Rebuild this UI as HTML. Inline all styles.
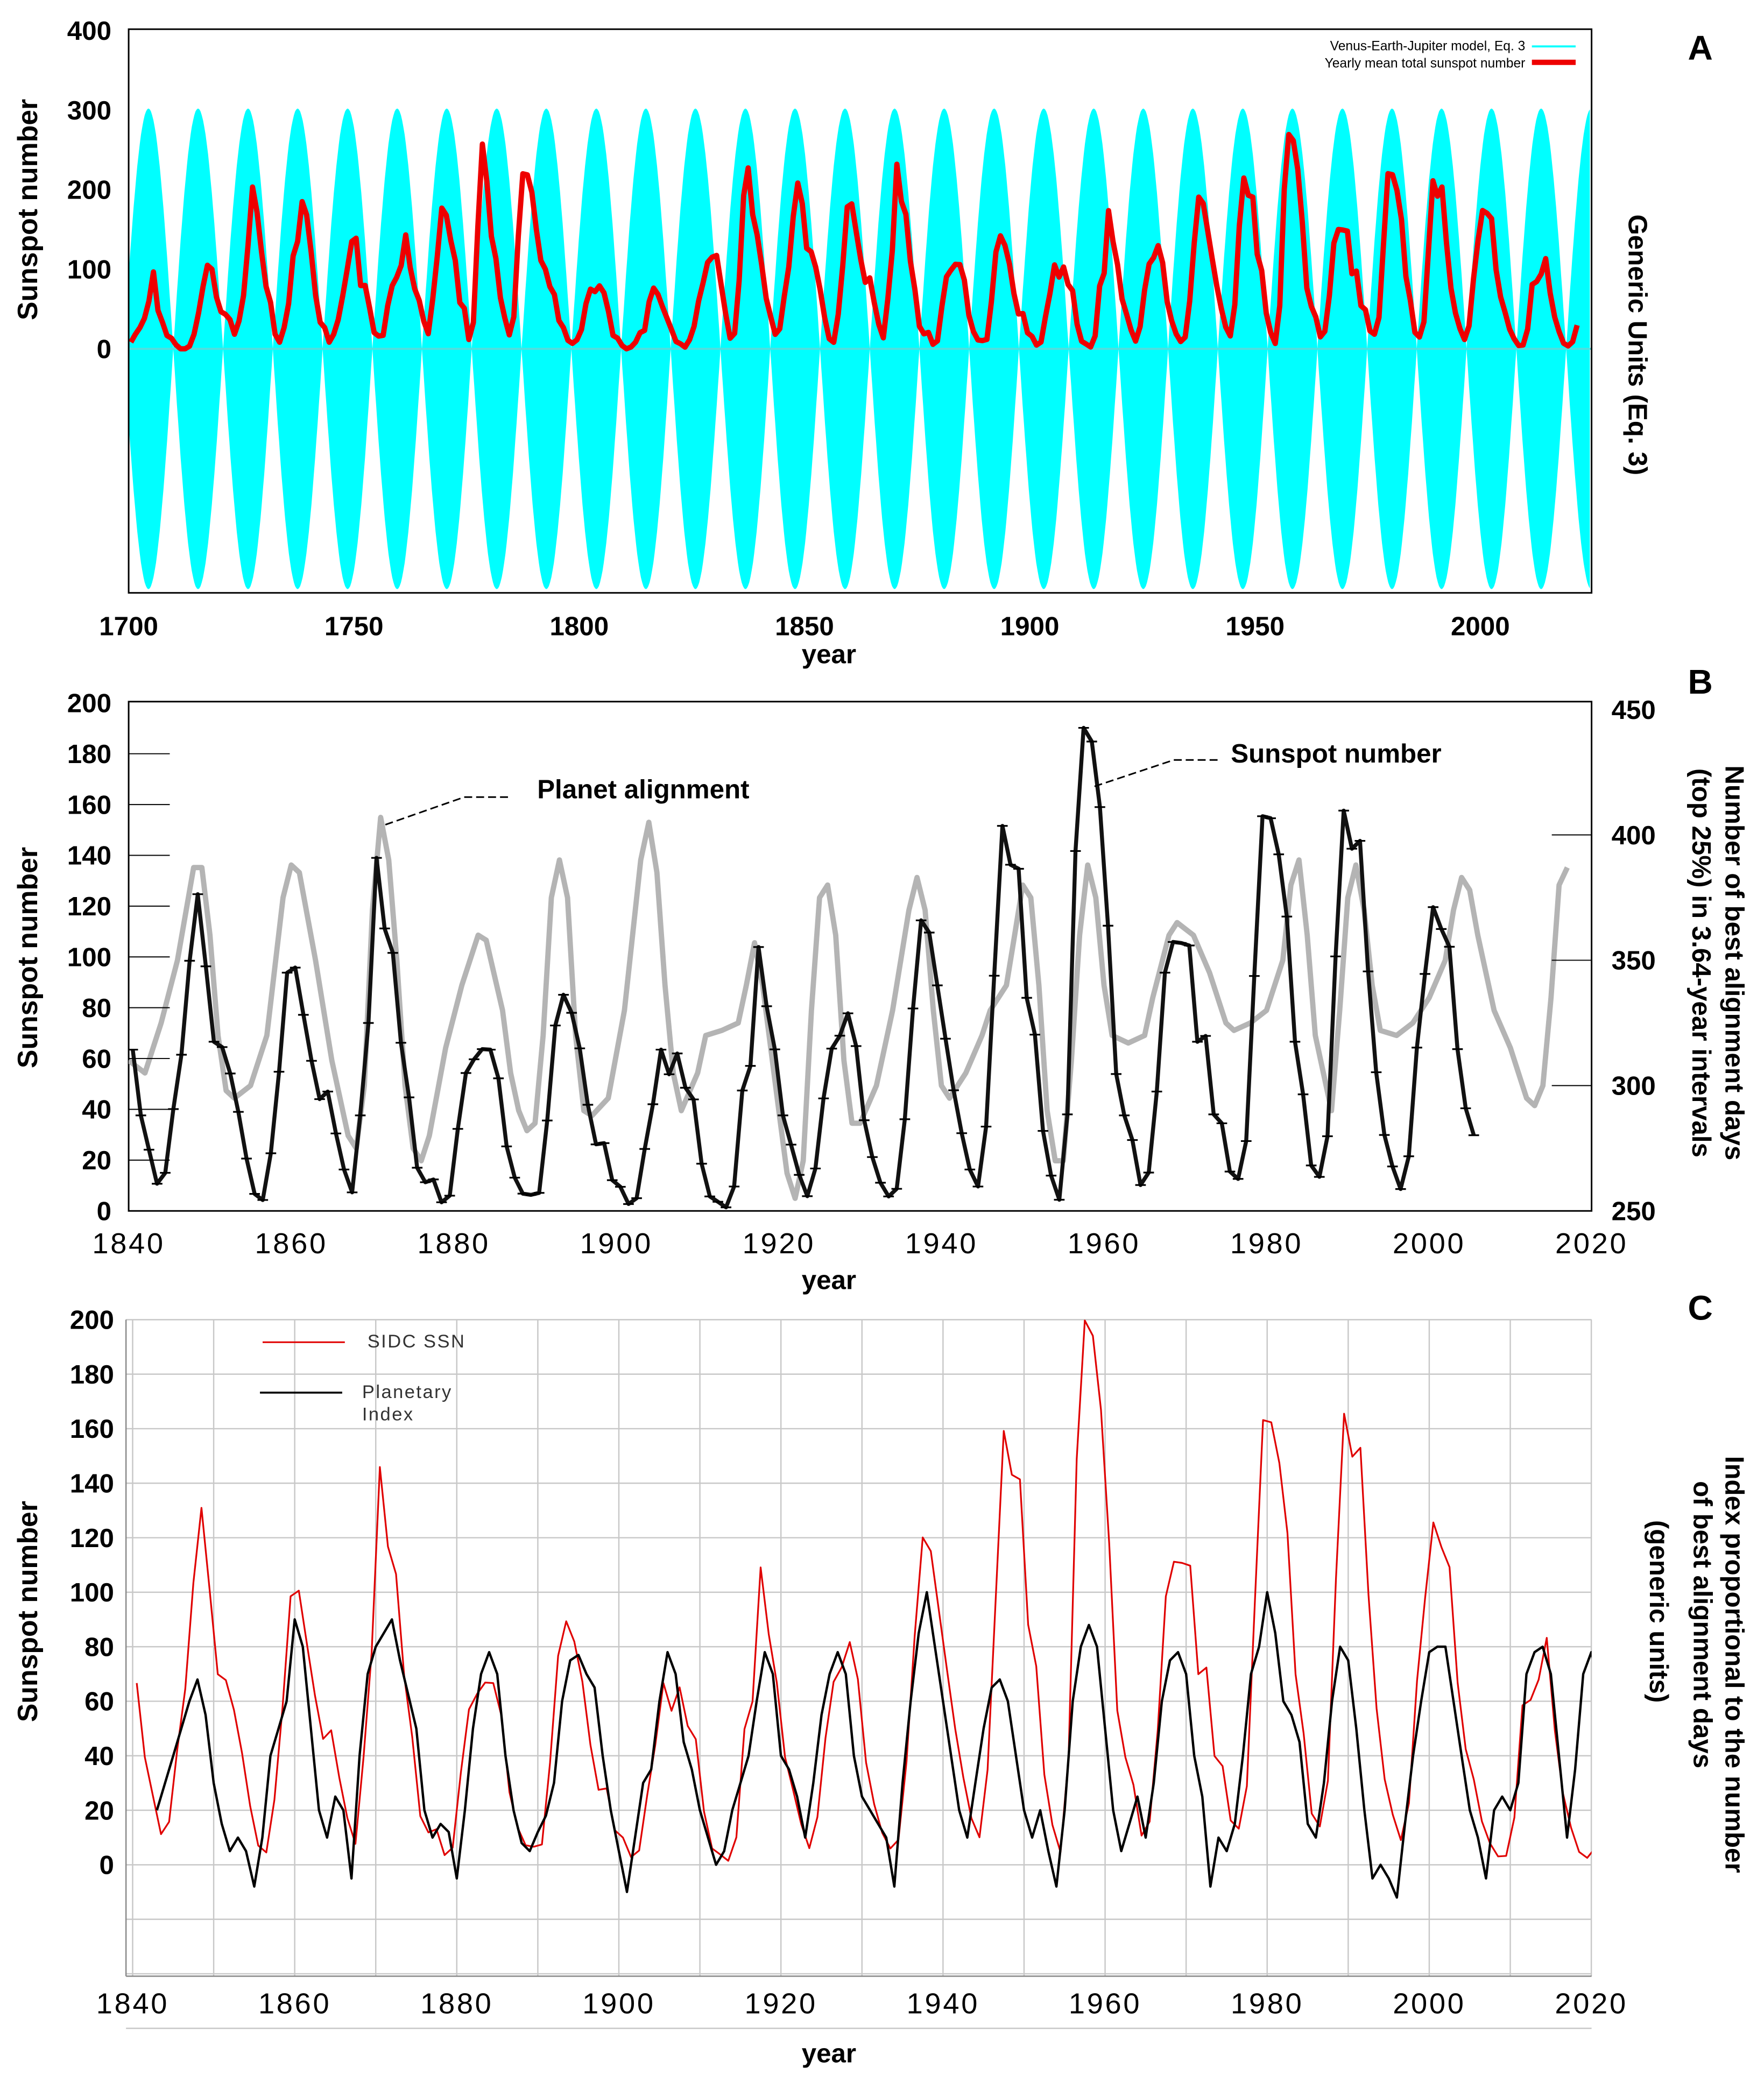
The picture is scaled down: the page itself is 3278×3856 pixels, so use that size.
<!DOCTYPE html>
<html><head><meta charset="utf-8"><title>Sunspot charts</title>
<style>
html,body{margin:0;padding:0;background:#fff;}
svg{display:block;font-family:"Liberation Sans",sans-serif;}
.b{font-weight:bold;}
</style></head>
<body>
<svg id="root" width="3278" height="3856" viewBox="0 0 1330 1564.5" xmlns="http://www.w3.org/2000/svg">
<defs>
<clipPath id="clipA"><rect x="97" y="22" width="1103" height="425"/></clipPath>
<clipPath id="clipB"><rect x="97" y="529" width="1103" height="384"/></clipPath>
<clipPath id="clipC"><rect x="95" y="995" width="1105" height="495"/></clipPath>
</defs>
<!-- Panel A -->
<g>
<g id="aMarks" clip-path="url(#clipA)"></g>
<rect x="97" y="22" width="1103" height="425" fill="none" stroke="#000" stroke-width="1.2"/>
<g id="aAxes"></g>
<text class="b" font-size="21" transform="translate(28,158) rotate(-90)" text-anchor="middle">Sunspot number</text>
<text class="b" font-size="20" transform="translate(1228,260) rotate(90)" text-anchor="middle">Generic Units (Eq. 3)</text>
<text class="b" font-size="20" x="625" y="500" text-anchor="middle">year</text>
<text class="b" font-size="26" x="1282" y="45" text-anchor="middle">A</text>
<g>
<text font-size="10" x="1150" y="38" text-anchor="end">Venus-Earth-Jupiter model, Eq. 3</text>
<line x1="1155" y1="35" x2="1188" y2="35" stroke="#00ffff" stroke-width="1.5"/>
<text font-size="10" x="1150" y="51" text-anchor="end">Yearly mean total sunspot number</text>
<line x1="1155" y1="47" x2="1188" y2="47" stroke="#ee0000" stroke-width="4"/>
</g>
</g>
<!-- Panel B -->
<g>
<rect x="97" y="529" width="1103" height="384" fill="none" stroke="#000" stroke-width="1.2"/>
<g id="bMarks" clip-path="url(#clipB)"></g>
<g id="bAxes"></g>
<text class="b" font-size="21" transform="translate(28,722) rotate(-90)" text-anchor="middle">Sunspot number</text>
<text class="b" font-size="20" transform="translate(1301,726) rotate(90)" text-anchor="middle">Number of best alignment days</text>
<text class="b" font-size="20" transform="translate(1276,726) rotate(90)" text-anchor="middle">(top 25%) in 3.64-year intervals</text>
<text class="b" font-size="20" x="625" y="972" text-anchor="middle">year</text>
<text class="b" font-size="26" x="1282" y="523" text-anchor="middle">B</text>
<text class="b" font-size="20" x="405" y="602">Planet alignment</text>
<polyline points="383,601 350,601 290,622" fill="none" stroke="#000" stroke-width="1.2" stroke-dasharray="6,3"/>
<text class="b" font-size="20" x="928" y="575">Sunspot number</text>
<polyline points="918,573 885,573 825,593" fill="none" stroke="#000" stroke-width="1.2" stroke-dasharray="6,3"/>
</g>
<!-- Panel C -->
<g>
<g id="cGrid"></g>
<g id="cMarks" clip-path="url(#clipC)"></g>
<g id="cAxes"></g>
<text class="b" font-size="21" transform="translate(28,1215) rotate(-90)" text-anchor="middle">Sunspot number</text>
<text class="b" font-size="20" transform="translate(1301,1255) rotate(90)" text-anchor="middle">Index proportional to the number</text>
<text class="b" font-size="20" transform="translate(1277,1225) rotate(90)" text-anchor="middle">of best alignment days</text>
<text class="b" font-size="20" transform="translate(1244,1215) rotate(90)" text-anchor="middle">(generic units)</text>
<text class="b" font-size="20" x="625" y="1555" text-anchor="middle">year</text>
<text class="b" font-size="26" x="1282" y="995" text-anchor="middle">C</text>
<g>
<line x1="198" y1="1012" x2="260" y2="1012" stroke="#e00000" stroke-width="1.2"/>
<text font-size="14" x="277" y="1016" letter-spacing="1" fill="#333">SIDC SSN</text>
<line x1="196" y1="1050" x2="258" y2="1050" stroke="#000" stroke-width="1.5"/>
<text font-size="14" x="273" y="1054" letter-spacing="1" fill="#333">Planetary</text>
<text font-size="14" x="273" y="1071" letter-spacing="1" fill="#333">Index</text>
</g>
</g>
</svg>
<script>
// ---- Panel A data ----
const aYears0 = 1700;
const aSSN = [8.3,18.3,26.7,38.3,60,96.7,48.3,33.3,16.7,13.3,5,0,0,3.3,18.3,45,78.3,105,100,65,46.7,43.3,36.7,18.3,35,66.7,130,203.3,171.7,121.7,78.3,58.3,18.3,8.3,26.7,56.7,116.7,135,185,168.3,121.7,66.7,33.3,26.7,8.3,18.3,36.7,66.7,100,134.8,139,79.5,79.7,51.2,20.3,16,17,54,79.3,90,104.8,143.2,102,75.2,60.7,34.8,19,63,116.3,176.8,168,136,110.8,58,51,11.7,33,154.2,257.3,209.8,141.3,113.5,64.2,38.8,17.5,40.2,142,220,218.7,196.8,149.8,111,100,78.2,68.3,35.5,26.7,10.7,6.8,11.3,24.2,56.7,75,71.8,79.2,70.3,46.8,16.8,13.5,4.2,0,2.3,8.3,20.3,23.2,59,76.3,68.3,52.9,38.5,24.2,9.2,6.3,2.2,11.4,28.2,59.9,83,108.5,115.2,117.4,80.8,44.3,13.4,19.5,85.8,192.7,227.3,168.7,143,105.5,63.3,40.3,18.1,25.1,65.8,102.7,166.3,208.3,182.5,126.3,122,102.7,74.1,39,12.7,8.2,43.4,104.4,178.3,182.2,146.6,112.1,83.5,89.2,57.8,30.7,13.9,62.8,123.6,232,185.3,169.2,110.1,74.5,28.3,18.9,20.7,5.7,10,53.7,90.5,99,106.1,105.8,86.3,42.4,21.8,11.2,10.4,11.8,59.5,121.7,142,130,106.6,69.4,43.8,44.4,20.2,15.7,4.6,8.5,40.8,70.1,105.5,90.1,102.8,80.9,73.2,30.9,9.5,6,2.4,16.1,79,95,173.6,134.6,105.7,62.7,43.5,23.7,9.7,27.9,74,106.5,114.7,129.7,108.2,59.4,35.1,18.6,9.2,14.6,60.2,132.8,190.6,182.6,148,113,79.2,50.8,27.1,16.1,55.3,154.3,214.7,193,190.7,118.9,98.3,45,20.1,6.6,54.2,200.7,269.3,261.7,225.1,159,76.4,53.4,39.9,15,22,66.8,132.9,150,149.4,148,94.4,97.6,54.1,49.2,22.5,18.4,39.3,131,220.1,218.9,198.9,162.4,91,60.5,20.6,14.8,33.9,123,211.1,191.8,203.3,133,76.1,44.9,25.1,11.6,28.9,88.3,136.3,173.9,170.4,163.6,99.3,65.3,45.8,24.7,12.6,4.2,4.8,24.9,80.8,84.5,94,113.3,69.8,39.8,21.7,7,3.6,8.8,29.6];
const aModelPeaks = [1693.4,1704.4,1715.4,1726.5,1737.5,1748.6,1759.6,1770.6,1781.7,1792.7,1803.8,1814.8,1825.8,1836.9,1847.9,1859.0,1870.0,1881.0,1892.1,1903.1,1914.2,1925.2,1936.2,1947.3,1958.3,1969.4,1980.4,1991.4,2002.5,2013.5,2024.6];
const aModelAmp = [302];
const aYTicks = [0,100,200,300,400];
const aXTicks = [1700,1750,1800,1850,1900,1950,2000];

// ---- Panel B data ----
const bYears0 = 1840;
const bSSN = [63.5,37.6,24.1,10.7,15.0,40.1,61.5,98.5,124.7,96.3,66.6,64.5,54.1,39.0,20.6,6.7,4.3,22.7,54.8,93.8,95.8,77.2,59.1,44.0,47.0,30.5,16.3,7.3,37.6,74.0,139.0,111.2,101.6,66.2,44.7,17.0,11.3,12.4,3.4,6.0,32.3,54.3,59.7,63.7,63.5,52.2,25.4,13.1,6.8,6.3,7.1,35.6,73.0,85.1,78.0,64.0,41.8,26.2,26.7,12.1,9.5,2.7,5.0,24.4,42.0,63.5,53.8,62.0,48.5,43.9,18.6,5.7,3.6,1.4,9.6,47.4,57.1,103.9,80.6,63.6,37.6,26.1,14.2,5.8,16.7,44.3,63.9,69.0,77.8,64.9,35.7,21.2,11.1,5.7,8.7,36.1,79.7,114.4,109.6,88.8,67.8,47.5,30.6,16.3,9.6,33.2,92.6,151.6,136.3,134.7,83.9,69.4,31.5,13.9,4.4,38.0,141.7,190.2,184.8,159.0,112.3,53.9,37.6,27.9,10.2,15.1,47.0,93.8,105.9,105.5,104.5,66.6,68.9,38.0,34.5,15.5,12.6,27.5,92.5,155.4,154.6,140.4,115.9,66.6,45.9,17.9,13.4,29.4,100.2,157.6,142.6,145.7,94.3,54.6,29.9,17.5,8.6,21.5,64.3,93.3,119.6,111.0,104.0,63.7,40.4,29.8];
const bAlignYears = [1840,1842,1844,1846,1848,1849,1850,1851,1852,1853,1855,1857,1859,1860,1861,1863,1865,1867,1868,1869,1870,1871,1872,1873,1874,1875,1876,1877,1879,1881,1883,1884,1886,1887,1888,1889,1890,1891,1892,1893,1894,1895,1896,1897,1899,1901,1903,1904,1905,1906,1907,1908,1910,1911,1913,1915,1916,1917,1918,1920,1921,1922,1923,1924,1925,1926,1927,1928,1929,1930,1932,1934,1936,1937,1938,1939,1940,1941,1943,1945,1946,1948,1949,1950,1951,1952,1953,1954,1955,1956,1957,1958,1959,1960,1961,1963,1965,1966,1968,1969,1971,1973,1975,1976,1978,1980,1982,1983,1984,1985,1986,1987,1988,1989,1990,1991,1992,1993,1994,1996,1998,2000,2002,2003,2004,2005,2006,2008,2010,2012,2013,2014,2015,2016,2017];
const bAlignDays = [310,305,325,350,387,387,360,320,298,295,300,320,375,388,385,350,310,280,275,300,370,407,390,350,300,275,270,280,315,340,360,358,330,305,290,282,285,320,375,390,375,320,290,288,295,330,390,405,385,340,305,290,305,320,322,325,340,357,340,290,265,255,270,330,375,380,360,310,285,285,300,330,370,383,370,330,300,295,305,320,330,340,360,380,375,340,290,270,270,310,360,388,375,340,320,317,320,335,360,365,360,345,325,322,325,330,350,380,390,360,320,305,290,330,375,388,370,340,322,320,325,335,350,370,383,378,360,330,315,295,292,300,335,380,387];
const bYTicks = [0,20,40,60,80,100,120,140,160,180,200];
const bRTicks = [250,300,350,400,450];
const bXTicks = [1840,1860,1880,1900,1920,1940,1960,1980,2000,2020];

// ---- Panel C data ----
const cYears0 = 1840;
const cSSNExtra = [15.2,7.5,2.9,3.1,16.5,55.7,57.6,64.7,79.3,47,25,13,4.5,2.4,6];
const cIndexYears = [1843,1845,1847,1848,1849,1850,1851,1852,1853,1854,1855,1856,1857,1858,1859,1860,1861,1862,1863,1864,1865,1866,1867,1868,1869,1870,1872,1873,1875,1876,1877,1878,1879,1880,1881,1882,1883,1884,1885,1886,1887,1888,1889,1890,1891,1892,1893,1894,1895,1896,1897,1898,1899,1900,1901,1902,1903,1904,1905,1906,1907,1908,1909,1910,1911,1912,1913,1914,1915,1916,1917,1918,1919,1920,1921,1922,1923,1924,1925,1926,1927,1928,1929,1930,1931,1932,1933,1934,1935,1936,1937,1938,1939,1940,1941,1942,1943,1944,1945,1946,1947,1948,1949,1950,1951,1952,1953,1954,1955,1956,1957,1958,1959,1960,1961,1962,1963,1964,1965,1966,1967,1968,1969,1970,1971,1972,1973,1974,1975,1976,1977,1978,1979,1980,1981,1982,1983,1984,1985,1986,1987,1988,1989,1990,1991,1992,1993,1994,1995,1996,1997,1998,1999,2000,2001,2002,2003,2004,2005,2006,2007,2008,2009,2010,2011,2012,2013,2014,2015,2016,2017,2018,2019,2020,2021];
const cIndexVals = [20,40,60,68,55,30,15,5,10,5,-8,10,40,50,60,90,80,50,20,10,25,20,-5,40,70,80,90,75,50,20,10,15,12,-5,20,50,70,78,70,40,20,8,5,12,18,30,60,75,77,70,65,40,20,5,-10,10,30,35,60,78,70,45,35,20,10,0,5,20,30,40,60,78,70,40,35,25,10,30,55,70,78,70,40,25,20,15,10,-8,30,60,85,100,80,60,40,20,10,30,50,65,68,60,40,20,10,20,5,-8,20,60,80,88,80,50,20,5,15,25,10,30,60,75,78,70,40,25,-8,10,5,15,40,70,80,100,85,60,55,45,15,10,30,60,80,75,50,20,-5,0,-5,-12,15,40,60,78,80,80,60,40,20,10,-5,20,25,20,30,70,78,80,70,40,10,35,70,78,65];
const cYTicks = [0,20,40,60,80,100,120,140,160,180,200];
const cGridVals = [-60,-40,-20,0,20,40,60,80,100,120,140,160,180,200];
const cXTicks = [1840,1860,1880,1900,1920,1940,1960,1980,2000,2020];

const NS = "http://www.w3.org/2000/svg";
function mk(tag, attrs, parent){const el=document.createElementNS(NS,tag);for(const k in attrs)el.setAttribute(k,attrs[k]);parent.appendChild(el);return el;}
function txt(s, attrs, parent){const el=mk('text',attrs,parent);el.textContent=s;return el;}

const xA = y => 97 + (y-1700)*3.397;
const yA = v => 263 - v*0.6;
const xB = y => 97 + (y-1840)*6.128;
const yB = v => 913 - v*1.915;
const yBR = v => 913 - (v-250)*1.89;
const xC = y => 100 + (y-1840)*6.11;
const yC = v => 1406 - v*2.055;

// Panel A
const aM = document.getElementById('aMarks');
const aX = document.getElementById('aAxes');
const topPts=[], botPts=[];
for(let i=0;i<aModelPeaks.length-1;i++){
  const p0=aModelPeaks[i], p1=aModelPeaks[i+1];
  for(let k=0;k<40;k++){
    const t=p0+(p1-p0)*k/40;
    const env=aModelAmp[0]*Math.abs(Math.cos(Math.PI*(t-p0)/(p1-p0)));
    topPts.push(xA(t).toFixed(1)+','+yA(env).toFixed(1));
    botPts.unshift(xA(t).toFixed(1)+','+yA(-env).toFixed(1));
  }
}
const cy = mk('polygon',{points:topPts.concat(botPts).join(' '),fill:'#00ffff'},aM);


const zl = mk('line',{x1:97,x2:1200,y1:yA(0),y2:yA(0),stroke:'#55dddd','stroke-width':1.5},aM);


const rp = aSSN.map((v,i)=>xA(aYears0+i+0.5).toFixed(1)+','+yA(v).toFixed(1)).join(' ');
const rl = mk('polyline',{points:rp,fill:'none',stroke:'#ee0000','stroke-width':4,'stroke-linejoin':'round'},aM);


aYTicks.forEach(v=>{
  const t=txt(String(v),{x:84,y:yA(v)+7,'font-size':20,'font-weight':'bold','text-anchor':'end'},aX);
  
  
});
aXTicks.forEach(v=>{
  const t=txt(String(v),{x:xA(v),y:479,'font-size':20,'font-weight':'bold','text-anchor':'middle'},aX);
  
  
});

// Panel B
const bM = document.getElementById('bMarks');
const bX = document.getElementById('bAxes');
const gp = bAlignYears.map((y,i)=>xB(y).toFixed(1)+','+yBR(bAlignDays[i]).toFixed(1)).join(' ');
const gl = mk('polyline',{points:gp,fill:'none',stroke:'#b4b4b4','stroke-width':4,'stroke-linejoin':'round'},bM);


const bp = bSSN.map((v,i)=>xB(bYears0+i+0.5).toFixed(1)+','+yB(v).toFixed(1)).join(' ');
const bl = mk('polyline',{points:bp,fill:'none',stroke:'#111','stroke-width':3,'stroke-linejoin':'round'},bM);


bSSN.forEach((v,i)=>{
  const m=mk('line',{x1:xB(bYears0+i+0.5)-4,x2:xB(bYears0+i+0.5)+4,y1:yB(v),y2:yB(v),stroke:'#000','stroke-width':1.3},bM);
  
  
});
bYTicks.forEach(v=>{
  const t=txt(String(v),{x:84,y:yB(v)+7,'font-size':20,'font-weight':'bold','text-anchor':'end'},bX);
  
  
  if(v>0&&v<200) mk('line',{x1:97,x2:128,y1:yB(v),y2:yB(v),stroke:'#000','stroke-width':0.8},bX);
});
bRTicks.forEach(v=>{
  const t=txt(String(v),{x:1215,y:yBR(v)+7,'font-size':20,'font-weight':'bold'},bX);
  
  
  if(v>250&&v<450) mk('line',{x1:1170,x2:1200,y1:yBR(v),y2:yBR(v),stroke:'#000','stroke-width':0.8},bX);
});
bXTicks.forEach(v=>{
  const t=txt(String(v),{x:xB(v),y:945,'font-size':22,'text-anchor':'middle','letter-spacing':1.5},bX);
  
  
});

// Panel C
const cG = document.getElementById('cGrid');
const cM = document.getElementById('cMarks');
const cX = document.getElementById('cAxes');
cGridVals.forEach(v=>{
  const g=mk('line',{x1:95,x2:1200,y1:yC(v),y2:yC(v),stroke:'#c8c8c8','stroke-width':1},cG);
  
  
});
for(let y=1840;y<=2020;y+=10){
  const g=mk('line',{x1:xC(y),x2:xC(y),y1:995,y2:1490,stroke:'#c8c8c8','stroke-width':1},cG);
  
  
}
mk('line',{x1:95,x2:95,y1:995,y2:1490,stroke:'#888','stroke-width':1},cG);
mk('line',{x1:95,x2:1200,y1:1490,y2:1490,stroke:'#888','stroke-width':1},cG);
const cSSN = bSSN.concat(cSSNExtra);
const cp = cSSN.map((v,i)=>xC(cYears0+i+0.5).toFixed(1)+','+yC(v*1.05).toFixed(1)).join(' ');
const cr = mk('polyline',{points:cp,fill:'none',stroke:'#e00000','stroke-width':1.3,'stroke-linejoin':'round'},cM);


const ip = cIndexYears.map((y,i)=>xC(y).toFixed(1)+','+yC(cIndexVals[i]).toFixed(1)).join(' ');
const ib = mk('polyline',{points:ip,fill:'none',stroke:'#000','stroke-width':1.8,'stroke-linejoin':'round'},cM);


cYTicks.forEach(v=>{
  const t=txt(String(v),{x:86,y:yC(v)+7,'font-size':20,'font-weight':'bold','text-anchor':'end'},cX);
  
  
});
cXTicks.forEach(v=>{
  const t=txt(String(v),{x:xC(v),y:1518,'font-size':22,'text-anchor':'middle','letter-spacing':1.5},cX);
  
  
});
</script>
</body></html>
